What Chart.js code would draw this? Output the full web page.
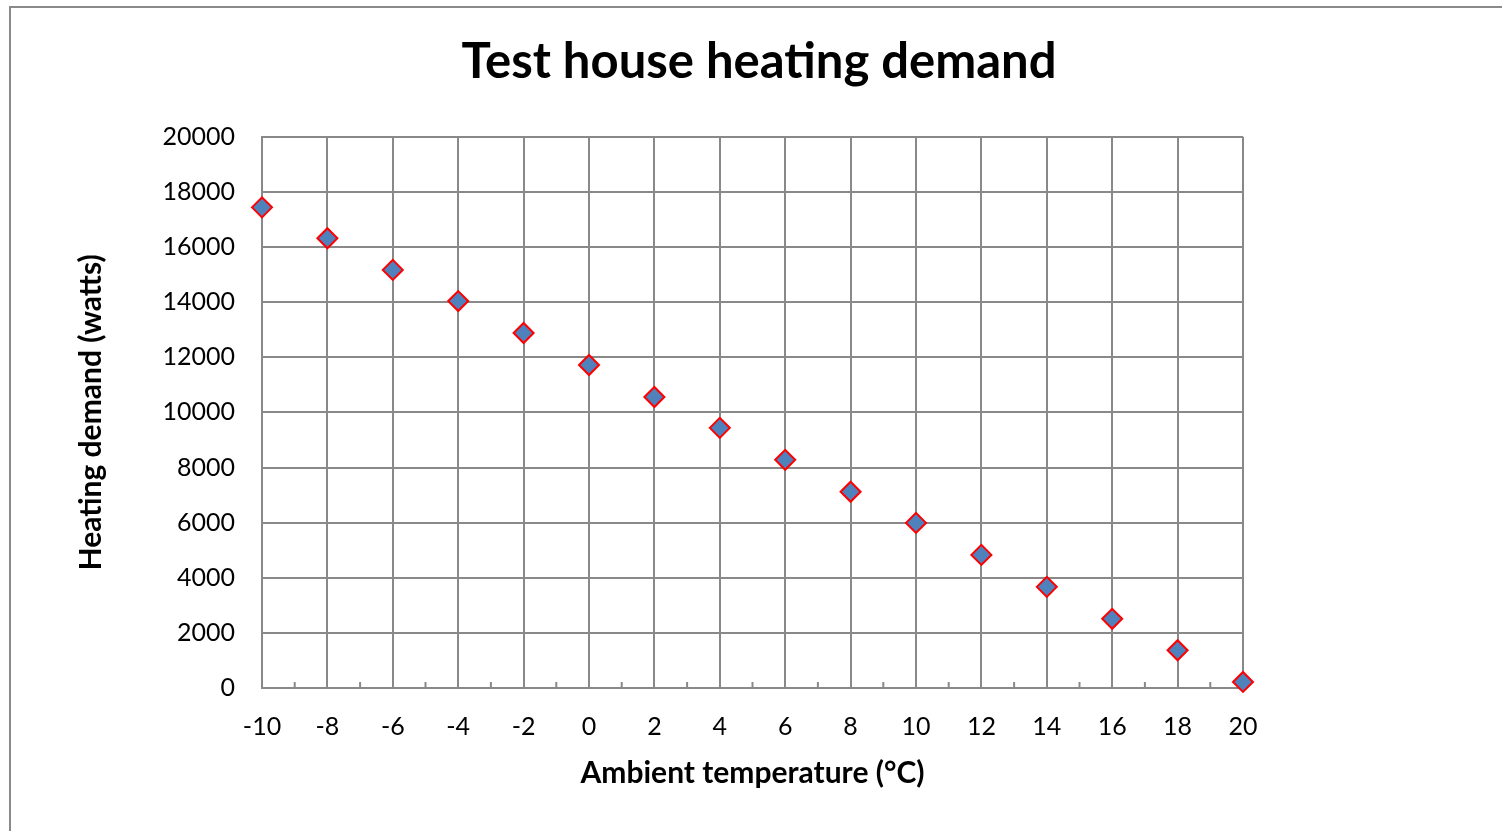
<!DOCTYPE html>
<html>
<head>
<meta charset="utf-8">
<title>Test house heating demand</title>
<script src="https://cdn.jsdelivr.net/npm/chart.js@4"></script>
<style>
    body { margin: 0; background: #fff; }
    #wrap { position: relative; width: 1502px; height: 831px; }
</style>
</head>
<body>
<div id="wrap"><canvas id="heatChart"></canvas></div>
<script>
// Ambient temperature (°C) and heating demand (W)
const temperatures = [-10, -8, -6, -4, -2, 0, 2, 4, 6, 8, 10, 12, 14, 16, 18, 20];
const demandWatts = [17440, 16320, 15170, 14040, 12880, 11720, 10560, 9440, 8280, 7120, 5990, 4830, 3670, 2510, 1370, 220];
const minorTickTemps = [-9, -7, -5, -3, -1, 1, 3, 5, 7, 9, 11, 13, 15, 17, 19];

const gridColor = '#898989';
const fontFamily = 'Lato, "Open Sans", sans-serif';

// fundo branco + moldura do gráfico
const framePlugin = {
    id: 'frame',
    beforeDraw(chart) {
        const ctx = chart.ctx;
        ctx.save();
        ctx.fillStyle = '#fff';
        ctx.fillRect(0, 0, chart.width, chart.height);
        ctx.strokeStyle = '#8a8a8a';
        ctx.lineWidth = 2;
        ctx.strokeRect(10, 7, chart.width + 20, chart.height + 20);
        ctx.restore();
    }
};

// pequenos traços nos valores ímpares do eixo x
const minorTicksPlugin = {
    id: 'minorTicks',
    beforeDatasetsDraw(chart) {
        const ctx = chart.ctx;
        const xs = chart.scales.x;
        const y0 = chart.scales.y.getPixelForValue(0);
        ctx.save();
        ctx.strokeStyle = gridColor;
        ctx.lineWidth = 2;
        minorTickTemps.forEach(t => {
            const px = xs.getPixelForValue(t);
            ctx.beginPath();
            ctx.moveTo(px, y0);
            ctx.lineTo(px, y0 - 6);
            ctx.stroke();
        });
        ctx.restore();
    }
};

const points = temperatures.map((t, i) => ({ x: t, y: demandWatts[i] }));

new Chart(document.getElementById('heatChart'), {
    type: 'scatter',
    data: {
        datasets: [{
            data: points,
            pointStyle: 'rectRot',
            pointRadius: 10,
            pointHoverRadius: 10,
            pointBackgroundColor: '#4F81BD',
            pointBorderColor: '#FF0000',
            pointBorderWidth: 2,
            clip: false
        }]
    },
    options: {
        responsive: true,
        maintainAspectRatio: false,
        animation: false,
        layout: { padding: { left: 16, right: 0, top: 0, bottom: 0 } },
        plugins: {
            legend: { display: false },
            tooltip: { enabled: false },
            title: {
                display: true,
                text: 'Test house heating demand',
                color: '#000',
                font: { family: fontFamily, size: 49, weight: 'bold' },
                padding: { top: 33, bottom: 45 }
            }
        },
        scales: {
            x: {
                type: 'linear',
                min: -10,
                max: 20,
                afterFit(scale) { scale.height = 143; },
                grid: { color: gridColor, lineWidth: 2, drawTicks: false },
                border: { color: gridColor, width: 2 },
                ticks: {
                    stepSize: 2,
                    color: '#000',
                    padding: 24,
                    maxRotation: 0,
                    font: { family: fontFamily, size: 25 },
                    callback: v => String(v)
                },
                title: {
                    display: true,
                    text: 'Ambient temperature (°C)',
                    color: '#000',
                    font: { family: fontFamily, size: 30, weight: 'bold' },
                    padding: { top: 0, bottom: 40 }
                }
            },
            y: {
                min: 0,
                max: 20000,
                afterFit(scale) { scale.width = 246; },
                grid: { color: gridColor, lineWidth: 2, drawTicks: false },
                border: { color: gridColor, width: 2 },
                ticks: {
                    stepSize: 2000,
                    color: '#000',
                    padding: 27,
                    font: { family: fontFamily, size: 25 },
                    callback: v => String(v)
                },
                title: {
                    display: true,
                    text: 'Heating demand (watts)',
                    color: '#000',
                    font: { family: fontFamily, size: 30, weight: 'bold' },
                    padding: { top: 57, bottom: 0 }
                }
            },
            // eixo vazio à direita só para reservar o espaço em branco
            spacer: {
                type: 'linear',
                position: 'right',
                display: true,
                afterFit(scale) { scale.width = 259; },
                grid: { display: false },
                border: { display: false },
                ticks: { display: false }
            }
        }
    },
    plugins: [framePlugin, minorTicksPlugin]
});
</script>
</body>
</html>
